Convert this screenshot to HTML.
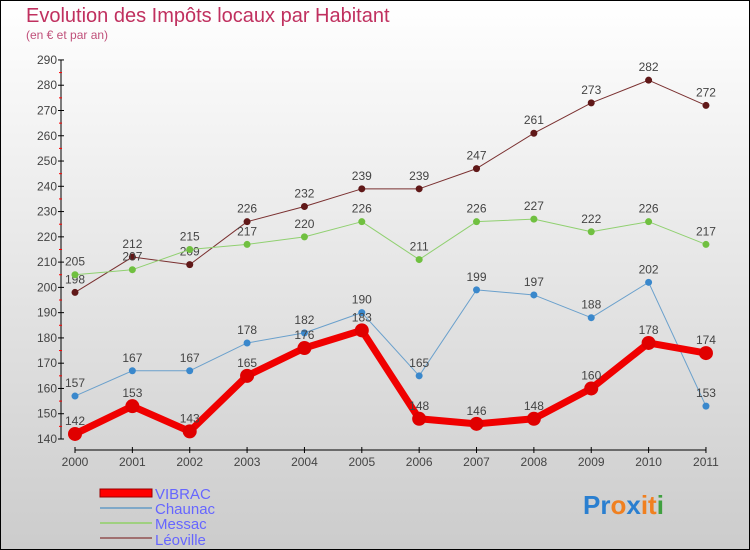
<!DOCTYPE html>
<html><head><meta charset="utf-8"><style>
body{margin:0}
svg{display:block;font-family:"Liberation Sans",sans-serif}
</style></head><body>
<svg width="750" height="550" viewBox="0 0 750 550">
<defs><linearGradient id="bg" x1="0" y1="0" x2="0" y2="1"><stop offset="0" stop-color="#ffffff"/><stop offset="1" stop-color="#cccccc"/></linearGradient></defs>
<rect x="0.5" y="0.5" width="749" height="549" fill="url(#bg)" stroke="#000"/>
<text x="26" y="22" font-size="20" fill="#c0305f">Evolution des Impôts locaux par Habitant</text>
<text x="26" y="39" font-size="12" fill="#c0507a">(en € et par an)</text>
<g id="axes"></g>
<g id="series"></g>
<g>
<rect x="100" y="489" width="52" height="8" fill="#f00" stroke="#900"/>
<text x="155" y="499" font-size="15" fill="#6666ff">VIBRAC</text>
<line x1="100" y1="508" x2="152" y2="508" stroke="#7fa8c8" stroke-width="2"/>
<text x="155" y="514" font-size="15" fill="#6666ff">Chaunac</text>
<line x1="100" y1="523" x2="152" y2="523" stroke="#9fd080" stroke-width="2"/>
<text x="155" y="529" font-size="15" fill="#6666ff">Messac</text>
<line x1="100" y1="538" x2="152" y2="538" stroke="#a07070" stroke-width="2"/>
<text x="155" y="545" font-size="15" fill="#6666ff">Léoville</text>
</g>
<text x="583" y="514" font-size="26" font-weight="bold"><tspan fill="#2a7fd0">Pr</tspan><tspan fill="#f08020">o</tspan><tspan fill="#2a7fd0">x</tspan><tspan fill="#f08020">it</tspan><tspan fill="#40a040">i</tspan></text>
</svg>
<script>
const years=["2000","2001","2002","2003","2004","2005","2006","2007","2008","2009","2010","2011"];
const yTicks=[140,150,160,170,180,190,200,210,220,230,240,250,260,270,280,290];
const vibrac=[142,153,143,165,176,183,148,146,148,160,178,174];
const chaunac=[157,167,167,178,182,190,165,199,197,188,202,153];
const messac=[205,207,215,217,220,226,211,226,227,222,226,217];
const leoville=[198,212,209,226,232,239,239,247,261,273,282,272];
const NS="http://www.w3.org/2000/svg";
const X=i=>75+i*57.36;
const Y=v=>439-(v-140)*25.27/10;
function mk(tag,attrs,parent){const e=document.createElementNS(NS,tag);for(const k in attrs)e.setAttribute(k,attrs[k]);parent.appendChild(e);return e;}
const ax=document.getElementById('axes');
mk('line',{x1:61,y1:Y(290),x2:61,y2:Y(140),stroke:'#000','stroke-width':1},ax);
mk('line',{x1:75,y1:450,x2:706,y2:450,stroke:'#000','stroke-width':1},ax);
yTicks.forEach(v=>{
  mk('line',{x1:58,y1:Y(v),x2:64,y2:Y(v),stroke:'#000'},ax);
  if(v<290) mk('line',{x1:59,y1:Y(v+5),x2:62,y2:Y(v+5),stroke:'#f00'},ax);
  const t=mk('text',{x:57,y:Y(v)+4,'font-size':12,'text-anchor':'end',fill:'#444'},ax);
  
  
  t.textContent=v;
});
years.forEach((y,i)=>{
  mk('line',{x1:X(i),y1:447,x2:X(i),y2:453,stroke:'#000'},ax);
  const t=mk('text',{x:X(i),y:466,'font-size':12,'text-anchor':'middle',fill:'#444'},ax);
  
  
  t.textContent=y;
});
const sg=document.getElementById('series');
function draw(data,name,color,dot,width,r){
  const g=mk('g',{},sg);
  
  
  const pl=mk('polyline',{points:data.map((v,i)=>X(i)+','+Y(v)).join(' '),fill:'none',stroke:color,'stroke-width':width,'stroke-linejoin':'round'},g);
  
  
  data.forEach((v,i)=>{
    const c=mk('circle',{cx:X(i),cy:Y(v),r:r,fill:dot},g);
    
    
    const t=mk('text',{x:X(i),y:Y(v)-9,'font-size':12,'text-anchor':'middle',fill:'#444'},g);
    
    
    t.textContent=v;
  });
}
draw(leoville,'leoville','#7a3030','#601818',1,3.5);
draw(messac,'messac','#90d070','#70c040',1,3.5);
draw(chaunac,'chaunac','#6aa0cc','#3a88cc',1,3.5);
draw(vibrac,'vibrac','#f00000','#e00000',7,7);
</script>
</body></html>
